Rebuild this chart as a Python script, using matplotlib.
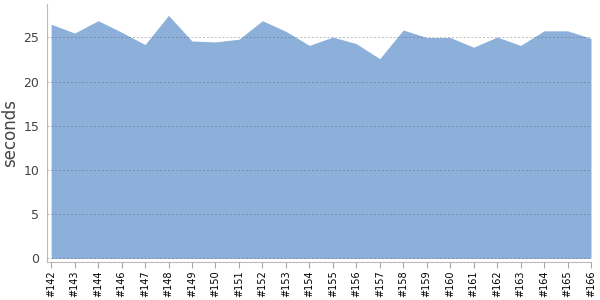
import numpy as np
import matplotlib.pyplot as plt

# DATA

builds = ["#142", "#143", "#144", "#146", "#147", "#148", "#149", "#150",
          "#151", "#152", "#153", "#154", "#155", "#156", "#157", "#158",
          "#159", "#160", "#161", "#162", "#163", "#164", "#165", "#166"]

seconds = [26.5, 25.5, 26.9, 25.6, 24.2, 27.5, 24.6, 24.5,
           24.8, 26.9, 25.7, 24.1, 25.05, 24.3, 22.6, 25.85,
           25.0, 25.0, 23.9, 25.05, 24.1, 25.75, 25.75, 24.9]

yticks = [0, 5, 10, 15, 20, 25]

# FIGURE

figure = plt.figure(figsize=(6, 3), dpi=100)
axis = figure.add_axes([0.079, 0.126, 0.906, 0.861])

x = np.arange(len(builds))
axis.fill_between(x, 0, seconds, color="#8db0da", linewidth=0, zorder=1)

axis.set_xlim(-0.16, len(builds) - 1)
axis.set_ylim(-0.43, 28.8)

axis.set_xticks(x)
axis.set_xticklabels(builds, rotation=90, fontsize=7, color="black")
axis.set_yticks(yticks)
axis.set_yticklabels([str(v) for v in yticks], fontsize=9, color="#444444")

axis.tick_params(axis="x", length=4, color="#aaaaaa", pad=2)
axis.tick_params(axis="y", length=0, pad=6)

axis.set_ylabel("seconds", fontsize=12, color="#444444")
axis.yaxis.set_label_coords(-0.052, 0.5)

for side in ["top", "right"]:
    axis.spines[side].set_visible(False)
for side in ["left", "bottom"]:
    axis.spines[side].set_color("#bbbbbb")

axis.grid(axis="y", color="#555555", linestyle=(0, (2, 2)), linewidth=0.7,
          alpha=0.4, zorder=2)
axis.set_axisbelow(False)

figure.savefig("out.png")
